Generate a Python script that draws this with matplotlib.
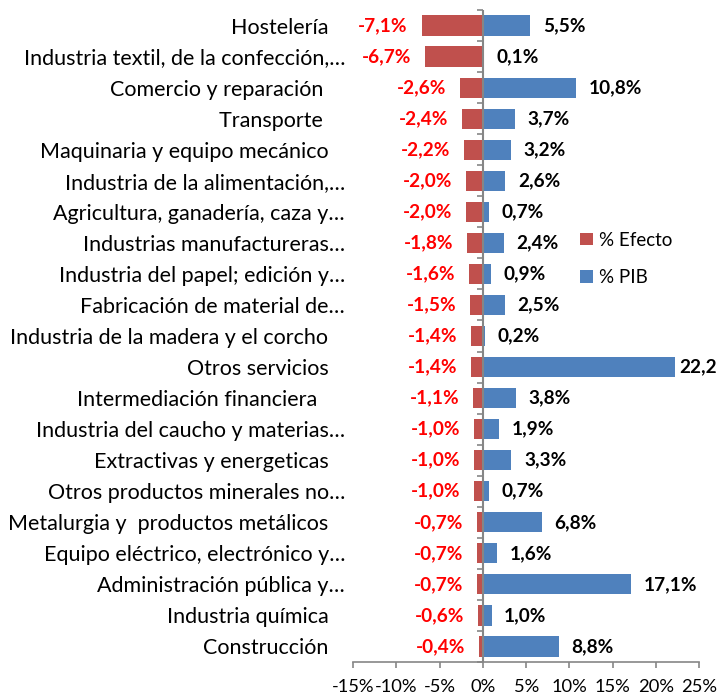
import matplotlib
matplotlib.use("Agg")
import matplotlib.pyplot as plt
from matplotlib.ticker import FuncFormatter

plt.rcParams['font.family'] = ['Lato', 'DejaVu Sans']

categorias = [
    "Hostelería   ",
    "Industria textil, de la confección,…",
    "Comercio y reparación    ",
    "Transporte    ",
    "Maquinaria y equipo mecánico   ",
    "Industria de la alimentación,…",
    "Agricultura, ganadería, caza y…",
    "Industrias manufactureras…",
    "Industria del papel; edición y…",
    "Fabricación de material de…",
    "Industria de la madera y el corcho   ",
    "Otros servicios   ",
    "Intermediación financiera     ",
    "Industria del caucho y materias…",
    "Extractivas y energeticas   ",
    "Otros productos minerales no…",
    "Metalurgia y  productos metálicos   ",
    "Equipo eléctrico, electrónico y…",
    "Administración pública y…",
    "Industria química   ",
    "Construcción   ",
]
efecto = [-7.1, -6.7, -2.6, -2.4, -2.2, -2.0, -2.0, -1.8, -1.6, -1.5, -1.4,
          -1.4, -1.1, -1.0, -1.0, -1.0, -0.7, -0.7, -0.7, -0.6, -0.4]
pib = [5.5, 0.1, 10.8, 3.7, 3.2, 2.6, 0.7, 2.4, 0.9, 2.5, 0.2,
       22.2, 3.8, 1.9, 3.3, 0.7, 6.8, 1.6, 17.1, 1.0, 8.8]
xticks = [-15, -10, -5, 0, 5, 10, 15, 20, 25]

rojo = '#C0504D'
azul = '#4F81BD'
gris = '#868686'

def pct(v):
    return ('%.1f%%' % v).replace('.', ',')

fig = plt.figure(figsize=(7.17, 6.93), dpi=100)
ax = fig.add_axes([0.4927, 0.0447, 0.4823, 0.9409])

y = list(range(len(categorias)))
ax.barh(y, efecto, height=0.65, color=rojo, label='% Efecto')
ax.barh(y, pib, height=0.65, color=azul, label='% PIB')

for i in y:
    ax.annotate(pct(efecto[i]), (efecto[i], i), xytext=(-10, 0), textcoords='offset points',
                ha='right', va='center', color='#FF0000', fontweight='bold', fontsize=13.7)
    # Excel mete la etiqueta dentro del grafico si no cabe
    off = 9 if pib[i] < 20 else 3
    ax.annotate(pct(pib[i]), (pib[i], i), xytext=(off, 0), textcoords='offset points',
                ha='left', va='center', color='black', fontweight='bold', fontsize=13.7,
                annotation_clip=False)

ax.set_xlim(-15, 25)
ax.set_ylim(len(categorias) - 0.5, -0.5)
ax.set_xticks(xticks)
ax.xaxis.set_major_formatter(FuncFormatter(lambda v, p: '%d%%' % v))
ax.tick_params(axis='x', direction='out', length=4, width=1.2, color=gris, labelsize=13.2, pad=8)

ax.set_yticks(y)
ax.set_yticklabels(categorias, fontsize=15.5)
ax.tick_params(axis='y', length=0, pad=6)

for s in ['top', 'right', 'left']:
    ax.spines[s].set_visible(False)
ax.spines['bottom'].set_color(gris)
ax.spines['bottom'].set_linewidth(1.2)

# eje vertical en 0 con marcas entre categorias
ax.axvline(0, color=gris, lw=1.5, zorder=3)
sec = ax.secondary_yaxis(15 / 40)
sec.set_yticks([i - 0.5 for i in range(len(categorias) + 1)])
sec.set_yticklabels([])
sec.tick_params(direction='out', length=4, color=gris, width=1.2)
sec.spines['left'].set_visible(False)

fig.legend(loc='upper left', bbox_to_anchor=(0.786, 0.69), frameon=False, fontsize=13.5,
           handlelength=0.65, handleheight=0.65, handletextpad=0.35, labelspacing=1.1)

fig.savefig('out.png', dpi=100)
